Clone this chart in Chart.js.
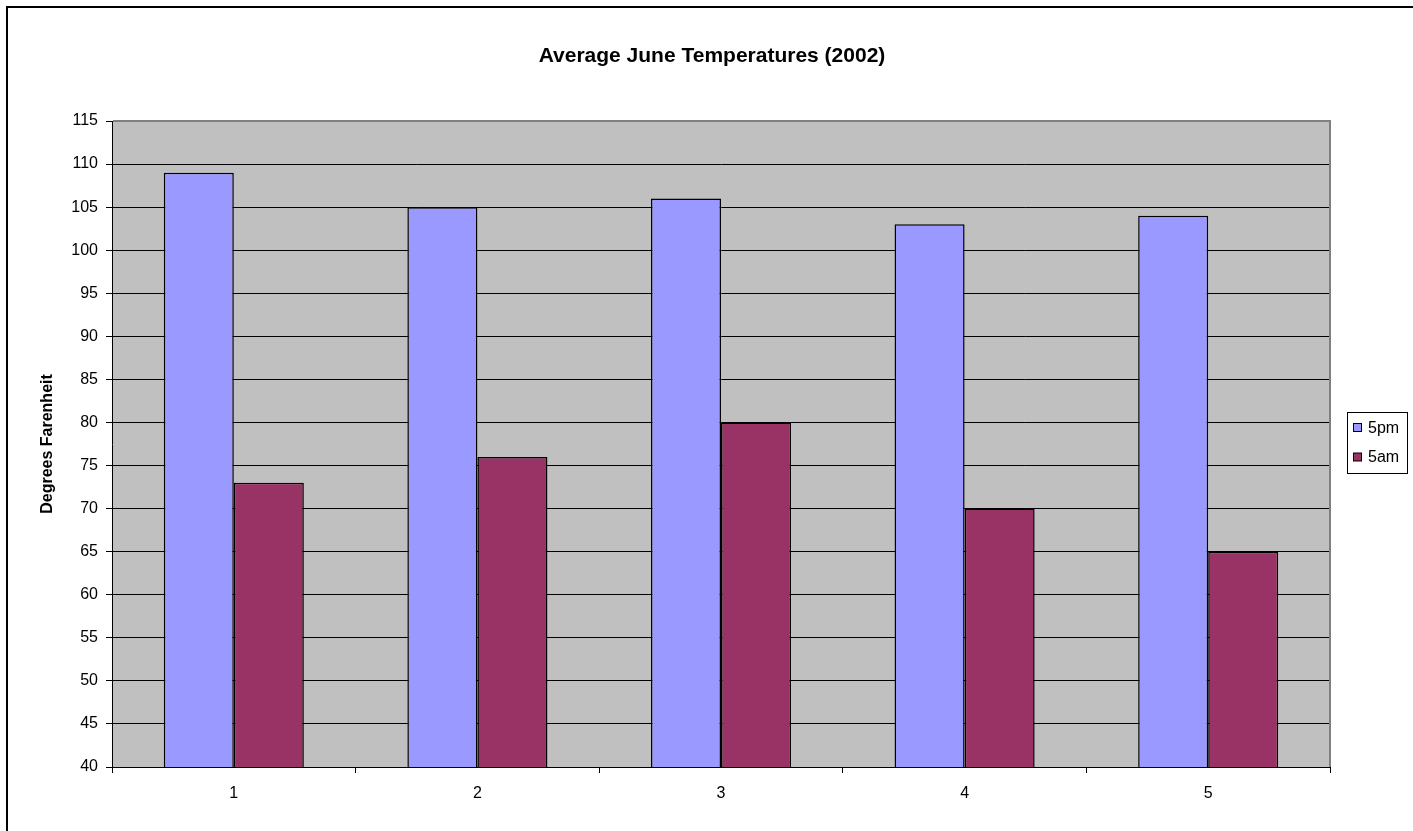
<!DOCTYPE html>
<html>
<head>
<meta charset="utf-8">
<script src="https://cdn.jsdelivr.net/npm/chart.js@4/dist/chart.umd.min.js"></script>
<style>
    html, body { margin: 0; padding: 0; background: #fff; overflow: hidden; }
    #frame {
        position: absolute; left: 6px; top: 6px;
        width: 1440px; height: 860px;
        border: 2.5px solid #000;
    }
    #chart { position: absolute; left: 0; top: 0; }
</style>
</head>
<body>
<div id="frame"></div>
<canvas id="chart" width="1413" height="831"></canvas>
<script>
// Chart data
const categories = ['1', '2', '3', '4', '5'];
const seriesNames = ['5pm', '5am'];
const temps5pm = [109, 105, 106, 103, 104];
const temps5am = [73, 76, 80, 70, 65];
const yMin = 40;
const yMax = 115;
const yStep = 5;

const colors = ['#9999FF', '#993366'];
const FONT = "'Liberation Sans', Arial, sans-serif";

// Grey plot area + grey top/right frame
const plotArea = {
    id: 'plotArea',
    beforeDraw(chart) {
        const { ctx, chartArea: a } = chart;
        ctx.save();
        ctx.fillStyle = '#C0C0C0';
        ctx.fillRect(a.left, a.top, a.right - a.left, a.bottom - a.top);
        ctx.restore();
    },
    afterDraw(chart) {
        const { ctx, chartArea: a } = chart;
        ctx.save();
        ctx.strokeStyle = '#808080';
        ctx.lineWidth = 2;
        ctx.beginPath();
        ctx.moveTo(a.left + 1, a.top);
        ctx.lineTo(a.right, a.top);
        ctx.lineTo(a.right, a.bottom);
        ctx.stroke();
        ctx.restore();
    }
};

// Excel style boxed legend to the right of the plot
const boxLegend = {
    id: 'boxLegend',
    afterDraw(chart) {
        const { ctx } = chart;
        const x = 1347.5, y = 412.5, w = 60, h = 61;
        ctx.save();
        ctx.fillStyle = '#fff';
        ctx.fillRect(x, y, w, h);
        ctx.strokeStyle = '#000';
        ctx.lineWidth = 1;
        ctx.strokeRect(x, y, w, h);
        ctx.font = '16px ' + FONT;
        ctx.textBaseline = 'middle';
        chart.data.datasets.forEach((ds, i) => {
            const cy = 428 + i * 29.5;
            ctx.fillStyle = ds.backgroundColor;
            ctx.fillRect(1353.5, cy - 4.5, 8, 8);
            ctx.strokeRect(1353.5, cy - 4.5, 8, 8);
            ctx.fillStyle = '#000';
            ctx.fillText(ds.label, 1368, cy + 0.5);
        });
        ctx.restore();
    }
};

new Chart(document.getElementById('chart'), {
    type: 'bar',
    data: {
        labels: categories,
        datasets: [
            { label: seriesNames[0], data: temps5pm, backgroundColor: colors[0] },
            { label: seriesNames[1], data: temps5am, backgroundColor: colors[1] }
        ]
    },
    options: {
        responsive: false,
        animation: false,
        devicePixelRatio: 1,
        layout: { padding: { left: 11, right: 0, top: 0, bottom: 0 } },
        datasets: {
            bar: {
                borderColor: '#000',
                borderWidth: 1.5,
                categoryPercentage: 0.575,
                barPercentage: 1.0
            }
        },
        plugins: {
            legend: { display: false },
            tooltip: { enabled: false },
            title: {
                display: true,
                text: 'Average June Temperatures (2002)',
                color: '#000',
                font: { family: FONT, size: 21, weight: 'bold', lineHeight: 1.2 },
                padding: { top: 44, bottom: 51.8 }
            }
        },
        scales: {
            x: {
                grid: {
                    drawOnChartArea: false,
                    color: '#000',
                    tickLength: 6,
                    offset: true
                },
                border: { color: '#000', width: 1 },
                ticks: {
                    color: '#000',
                    padding: 11,
                    font: { family: FONT, size: 16 }
                },
                afterFit(scale) { scale.height = 64; }
            },
            y: {
                min: yMin,
                max: yMax,
                grid: { color: '#000', tickLength: 6, lineWidth: 1 },
                border: { color: '#000', width: 1 },
                ticks: {
                    stepSize: yStep,
                    color: '#000',
                    padding: 8,
                    font: { family: FONT, size: 16 }
                },
                title: {
                    display: true,
                    text: 'Degrees Farenheit',
                    color: '#000',
                    font: { family: FONT, size: 16, weight: 'bold' },
                    padding: { top: 27, bottom: 0 }
                },
                afterFit(scale) { scale.width = 101; }
            },
            // empty axis that only reserves room for the legend
            yRight: {
                position: 'right',
                grid: { display: false },
                border: { display: false },
                ticks: { display: false },
                afterFit(scale) { scale.width = 83; }
            }
        }
    },
    plugins: [plotArea, boxLegend]
});
</script>
</body>
</html>
